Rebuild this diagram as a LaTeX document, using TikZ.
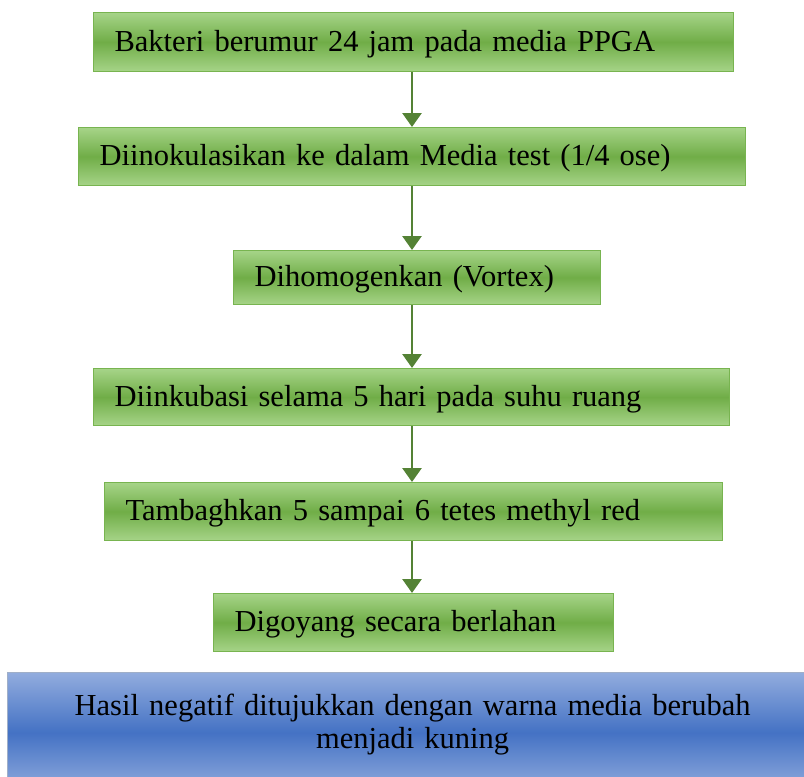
\documentclass[tikz,border=0pt]{standalone}
\usepackage{fontspec}
\setmainfont{Liberation Serif}[WordSpace=0.8]
\usetikzlibrary{arrows.meta}
\definecolor{gLight}{RGB}{166,212,136}
\definecolor{gMid}{RGB}{112,173,71}
\definecolor{gEdge}{RGB}{120,180,80}
\definecolor{gArrow}{RGB}{84,130,53}
\definecolor{bLight}{RGB}{146,172,222}
\definecolor{bMid}{RGB}{68,114,196}
\definecolor{bEdge}{RGB}{160,175,200}
\tikzset{
  gbox/.style={draw=gEdge, line width=1.2pt, rectangle, anchor=north west,
    top color=gLight, bottom color=gLight, middle color=gMid,
    align=left, inner xsep=21pt, inner ysep=0pt, text depth=3pt,
    font=\fontsize{30.5}{34}\selectfont, text=black},
  bbox/.style={draw=bEdge, line width=1.2pt, rectangle, anchor=north west,
    top color=bLight, bottom color=bLight, middle color=bMid,
    align=center, inner sep=0pt,
    font=\fontsize{30.5}{33}\selectfont, text=black},
  flow/.style={draw=gArrow, line width=2.8pt,
    -{Triangle[width=19pt,length=14pt]}}
}
\begin{document}
\begin{tikzpicture}[x=1pt,y=-1pt]
  \useasboundingbox (0,0) rectangle (804,777);
  % process steps
  \node[gbox, text width=598pt, minimum height=59pt] (s1) at (93,12)
    {Bakteri berumur 24 jam pada media PPGA};
  \node[gbox, text width=625pt, minimum height=58pt] (s2) at (78,127)
    {Diinokulasikan ke dalam Media test (1/4 ose)};
  \node[gbox, text width=325pt, minimum height=54pt] (s3) at (233,250)
    {Dihomogenkan (Vortex)};
  \node[gbox, text width=594pt, minimum height=57pt] (s4) at (93,368)
    {Diinkubasi selama 5 hari pada suhu ruang};
  \node[gbox, text width=576pt, minimum height=58pt] (s5) at (104,482)
    {Tambaghkan 5 sampai 6 tetes methyl red};
  \node[gbox, text width=358pt, minimum height=58pt] (s6) at (213,593)
    {Digoyang secara berlahan};
  % result
  \node[bbox, text width=810pt, minimum height=120pt, text depth=56pt] (res) at (7,672)
    {Hasil negatif ditujukkan dengan warna media berubah\\menjadi kuning};
  % connectors
  \coordinate (ax) at (412,0);
  \draw[flow] (s1.south -| ax) -- (s2.north -| ax);
  \draw[flow] (s2.south -| ax) -- (s3.north -| ax);
  \draw[flow] (s3.south -| ax) -- (s4.north -| ax);
  \draw[flow] (s4.south -| ax) -- (s5.north -| ax);
  \draw[flow] (s5.south -| ax) -- (s6.north -| ax);
\end{tikzpicture}
\end{document}
